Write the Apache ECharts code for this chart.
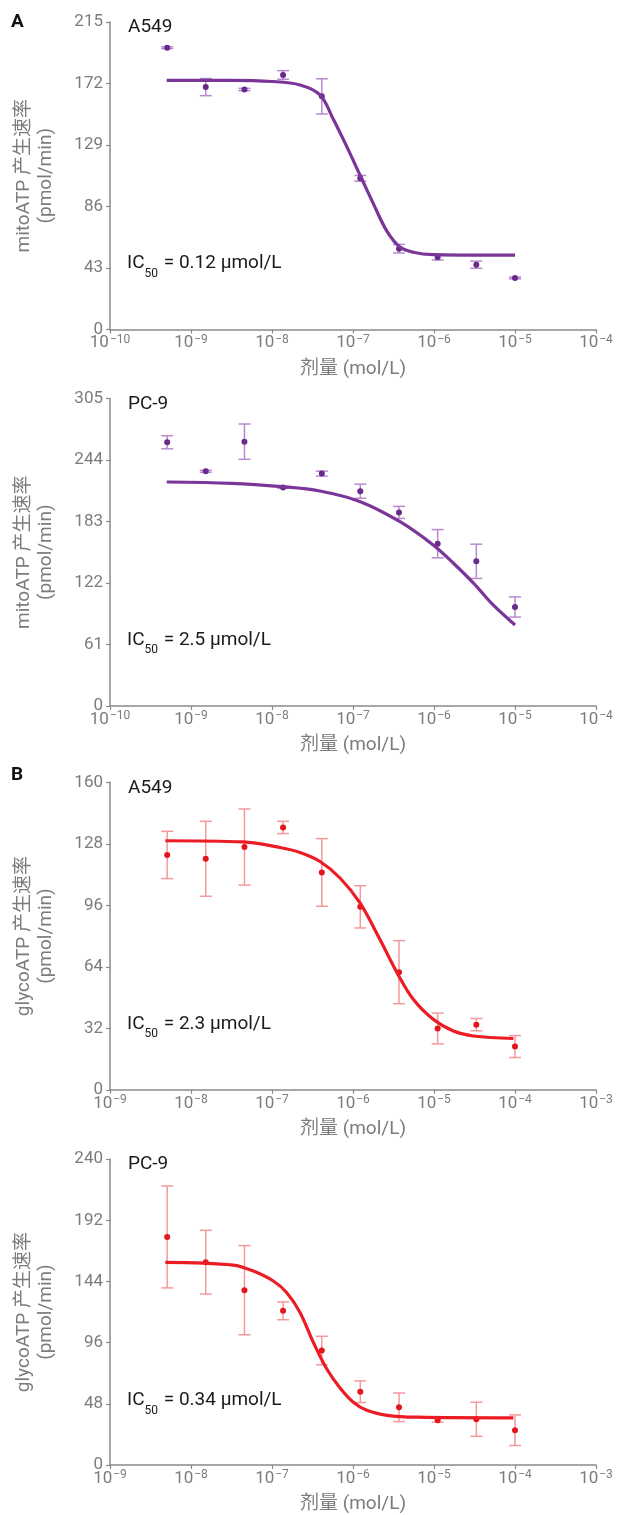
<!DOCTYPE html>
<html>
<head>
<meta charset="utf-8">
<script src="https://cdn.jsdelivr.net/npm/echarts@6/dist/echarts.min.js"></script>
<style>
  html, body { margin: 0; padding: 0; background: #fff; }
  #chart { width: 623px; height: 1515px; }
</style>
</head>
<body>
<div id="chart"></div>
<script>
const FONT = 'Roboto, "Noto Sans CJK SC", sans-serif';

// doses (mol/L), 3-fold dilutions
const doseA = [5.08e-10, 1.52e-9, 4.57e-9, 1.37e-8, 4.12e-8, 1.23e-7, 3.70e-7, 1.11e-6, 3.33e-6, 1.0e-5];
const doseB = [5.08e-9, 1.52e-8, 4.57e-8, 1.37e-7, 4.12e-7, 1.23e-6, 3.70e-6, 1.11e-5, 3.33e-5, 1.0e-4];

// measured means and error (pmol/min)
const mitoA549 = [197, 169.5, 167.8, 178, 163, 105.7, 56.5, 50.6, 45.3, 36];
const mitoA549Err = [0.6, 6, 0.8, 3, 12.3, 2, 3, 2, 2.5, 0.6];
const mitoPC9 = [261.6, 232.8, 262.2, 216.6, 230.5, 213, 192, 161, 143.5, 98.2];
const mitoPC9Err = [6.5, 1, 17.5, 0.6, 2.5, 7, 6, 14, 17, 10];
const glycoA549 = [122.2, 120.2, 126.3, 136.5, 113.1, 95.2, 61.2, 31.9, 33.9, 22.5];
const glycoA549Err = [12.3, 19.5, 19.8, 3.2, 17.6, 11, 16.4, 8, 3.2, 5.7];
const glycoPC9 = [179, 159.2, 137.2, 121, 89.8, 57.5, 45.3, 35.1, 35.9, 27.3];
const glycoPC9Err = [40, 25, 35, 7, 11.2, 8.5, 11.2, 1.5, 13.4, 12];

// fitted curves: log10(dose) and value
const mitoA549FitLog = [-9.3, -8.5, -8.0, -7.654, -7.407, -7.243, -7.078, -6.914, -6.749, -6.584, -6.42, -6.256, -6.01, -5.5, -5.0];
const mitoA549Fit = [174.2, 174.2, 173.4, 171, 164, 147, 128, 108, 88, 69, 57.6, 54, 52.3, 52, 52];
const mitoPC9FitLog = [-9.3, -8.5, -7.88, -7.41, -6.91, -6.42, -6.01, -5.76, -5.51, -5.27, -5.0];
const mitoPC9Fit = [222.2, 220.9, 217.6, 213.3, 202.7, 182.8, 159.7, 141.6, 121.7, 100.2, 80.4];
const glycoA549FitLog = [-8.317, -7.36, -6.90, -6.654, -6.407, -6.16, -5.914, -5.667, -5.46, -5.256, -5.01, -4.76, -4.515, -4.02];
const glycoA549Fit = [129.6, 129, 126.1, 123.5, 118.8, 110.2, 97.2, 78.2, 61.2, 47.1, 36.7, 30.6, 28, 26.7];
const glycoPC9FitLog = [-8.317, -7.478, -7.23, -6.984, -6.82, -6.654, -6.49, -6.325, -6.16, -6.0, -5.83, -5.58, -5.21, -4.02];
const glycoPC9Fit = [159, 156.9, 152.2, 144.4, 135.4, 119.7, 96.3, 75.5, 60.4, 49.5, 42.9, 39, 37.5, 37];

const yMax = [215, 305, 160, 240];
const yStep = [43, 61, 32, 48];
const xMin = [1e-10, 1e-10, 1e-9, 1e-9];
const xMax = [1e-4, 1e-4, 1e-3, 1e-3];
const cellNames = ['A549', 'PC-9', 'A549', 'PC-9'];
const ic50Text = ['0.12 μmol/L', '2.5 μmol/L', '2.3 μmol/L', '0.34 μmol/L'];
const yNames = ['mitoATP 产生速率\n(pmol/min)', 'mitoATP 产生速率\n(pmol/min)',
                'glycoATP 产生速率\n(pmol/min)', 'glycoATP 产生速率\n(pmol/min)'];

const purple = { line: '#7a3599', dot: '#6a2a8b', err: '#b889cf' };
const red = { line: '#ec1c24', dot: '#e3151d', err: '#f4999b' };

const panels = [
    { dose: doseA, mean: mitoA549, err: mitoA549Err, fitLog: mitoA549FitLog, fit: mitoA549Fit, color: purple },
    { dose: doseA, mean: mitoPC9, err: mitoPC9Err, fitLog: mitoPC9FitLog, fit: mitoPC9Fit, color: purple },
    { dose: doseB, mean: glycoA549, err: glycoA549Err, fitLog: glycoA549FitLog, fit: glycoA549Fit, color: red },
    { dose: doseB, mean: glycoPC9, err: glycoPC9Err, fitLog: glycoPC9FitLog, fit: glycoPC9Fit, color: red }
];

const gridTops = [22, 398.5, 782.3, 1159.2];
const gridHeight = 307.5;

function errorBarRender(color) {
    return function (params, api) {
        const x = api.value(0);
        const lo = api.coord([x, api.value(1)]);
        const hi = api.coord([x, api.value(2)]);
        const w = 6;
        const style = { stroke: color, lineWidth: 1.5 };
        return {
            type: 'group',
            children: [
                { type: 'line', shape: { x1: lo[0], y1: lo[1], x2: hi[0], y2: hi[1] }, style: style },
                { type: 'line', shape: { x1: lo[0] - w, y1: lo[1], x2: lo[0] + w, y2: lo[1] }, style: style },
                { type: 'line', shape: { x1: hi[0] - w, y1: hi[1], x2: hi[0] + w, y2: hi[1] }, style: style }
            ]
        };
    };
}

const axisGray = '#8a8a8e';
const labelGray = '#7b7b80';

const grids = [], xAxes = [], yAxes = [], series = [], graphics = [];

panels.forEach(function (p, i) {
    grids.push({ left: 110, right: 27, top: gridTops[i], height: gridHeight });

    xAxes.push({
        type: 'log',
        logBase: 10,
        gridIndex: i,
        min: xMin[i],
        max: xMax[i],
        splitNumber: 6,
        name: '剂量 (mol/L)',
        nameLocation: 'middle',
        nameGap: 30,
        nameTextStyle: { color: labelGray, fontSize: 19, fontFamily: FONT },
        axisLine: { lineStyle: { color: axisGray, width: 1.5 } },
        axisTick: { length: 4, lineStyle: { color: axisGray, width: 1.2 } },
        splitLine: { show: false },
        axisLabel: {
            margin: 4,
            color: labelGray,
            fontFamily: FONT,
            formatter: function (v) {
                const e = Math.round(Math.log10(v));
                return '{b|10}{s|\u2212' + Math.abs(e) + '}';
            },
            rich: {
                b: { fontSize: 17, color: labelGray, fontFamily: FONT, lineHeight: 19 },
                s: { fontSize: 12, color: labelGray, fontFamily: FONT, verticalAlign: 'top', padding: [0, 0, 0, 1] }
            }
        }
    });

    yAxes.push({
        type: 'value',
        gridIndex: i,
        min: 0,
        max: yMax[i],
        interval: yStep[i],
        name: yNames[i],
        nameLocation: 'middle',
        nameGap: 53,
        nameTextStyle: { color: labelGray, fontSize: 19, fontFamily: FONT, lineHeight: 22 },
        axisLine: { show: true, lineStyle: { color: axisGray, width: 1.5 } },
        axisTick: { show: true, length: 4, lineStyle: { color: axisGray, width: 1.2 } },
        splitLine: { show: false },
        axisLabel: { margin: 7, color: labelGray, fontSize: 17, fontFamily: FONT }
    });

    series.push({
        type: 'custom',
        xAxisIndex: i,
        yAxisIndex: i,
        renderItem: errorBarRender(p.color.err),
        encode: { x: 0, y: [1, 2] },
        data: p.dose.map(function (d, k) { return [d, p.mean[k] - p.err[k], p.mean[k] + p.err[k]]; }),
        z: 1
    });
    series.push({
        type: 'scatter',
        xAxisIndex: i,
        yAxisIndex: i,
        symbolSize: 6,
        itemStyle: { color: p.color.dot, opacity: 1 },
        data: p.dose.map(function (d, k) { return [d, p.mean[k]]; }),
        z: 2
    });
    series.push({
        type: 'line',
        xAxisIndex: i,
        yAxisIndex: i,
        smooth: 0.35,
        showSymbol: false,
        lineStyle: { color: p.color.line, width: 3.2 },
        data: p.fitLog.map(function (e, k) { return [Math.pow(10, e), p.fit[k]]; }),
        z: 3
    });

    graphics.push({
        type: 'text',
        left: 128,
        top: gridTops[i] - 4,
        style: { text: cellNames[i], fontSize: 19, fontFamily: FONT, fill: '#1a1a1a' }
    });
    graphics.push({
        type: 'text',
        left: 127,
        top: gridTops[i] + 232,
        style: {
            text: '{t|IC}{u|50}{t| = ' + ic50Text[i] + '}',
            rich: {
                t: { fontSize: 19, fontFamily: FONT, fill: '#1a1a1a', lineHeight: 22 },
                u: { fontSize: 12, fontFamily: FONT, fill: '#1a1a1a', verticalAlign: 'top', padding: [20, 1, 0, 0] }
            }
        }
    });
});

graphics.push({ type: 'text', left: 11, top: 13, style: { text: 'A', fontSize: 19, fontWeight: 'bold', fontFamily: FONT, fill: '#111' } });
graphics.push({ type: 'text', left: 11, top: 766, style: { text: 'B', fontSize: 19, fontWeight: 'bold', fontFamily: FONT, fill: '#111' } });

const chart = echarts.init(document.getElementById('chart'), null, { renderer: 'canvas' });
chart.setOption({
    animation: false,
    backgroundColor: '#fff',
    textStyle: { fontFamily: FONT },
    grid: grids,
    xAxis: xAxes,
    yAxis: yAxes,
    series: series,
    graphic: graphics
});
</script>
</body>
</html>
